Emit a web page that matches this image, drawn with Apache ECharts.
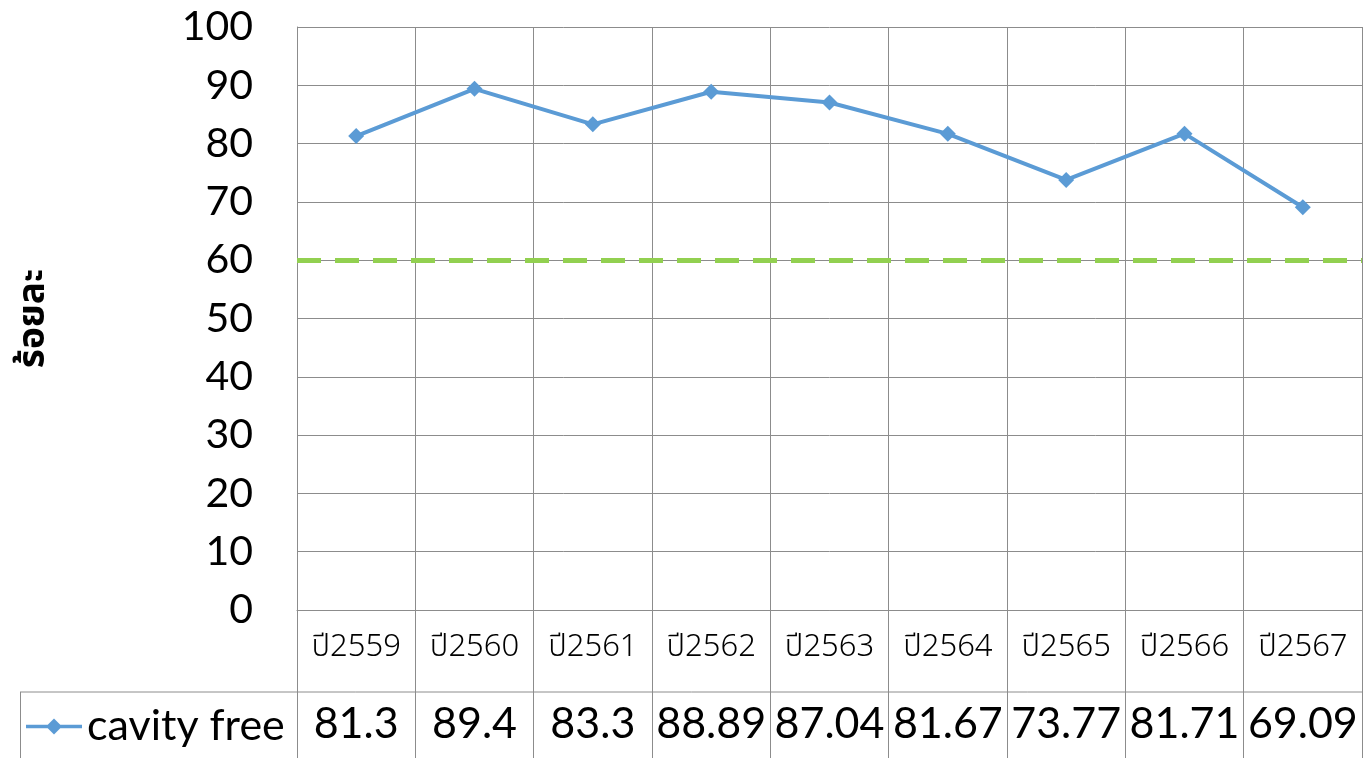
<!DOCTYPE html>
<html><head><meta charset="utf-8">
<script src="https://cdn.jsdelivr.net/npm/echarts@6/dist/echarts.min.js"></script>
<style>html,body{margin:0;padding:0;background:#fff}#c{width:1363px;height:758px}</style>
</head><body><div id="c"></div>
<script>
const categories = ['ปี2559','ปี2560','ปี2561','ปี2562','ปี2563','ปี2564','ปี2565','ปี2566','ปี2567'];
const seriesName = 'cavity free';
const values = [81.3, 89.4, 83.3, 88.89, 87.04, 81.67, 73.77, 81.71, 69.09];
const valueLabels = ['81.3','89.4','83.3','88.89','87.04','81.67','73.77','81.71','69.09'];
const targetValue = 60;
const yAxisName = 'ร้อยละ';

const FONT = 'Lato, "Open Sans", "Noto Sans", "Noto Sans Thai", sans-serif';
const THAI = '"Noto Sans Thai", "Noto Sans Thai Looped", Lato, "Noto Sans", sans-serif';
const GRID = '#8c8c8c';
const BLUE = '#5b9bd5';
const chart = echarts.init(document.getElementById('c'), null, {renderer:'canvas'});
chart.setOption({
  animation:false,
  backgroundColor:'#fff',
  grid:{left:297, right:1, top:27, bottom:148},
  legend:{
    left:21, top:700, itemWidth:56, itemHeight:16, itemGap:0,
    icon:'path://M0,6.2H56V9.8H0Z M28,0L36,8L28,16L20,8Z',
    itemStyle:{color:BLUE},
    textStyle:{fontSize:43, color:'#000', fontFamily:FONT},
    data:[seriesName]
  },
  xAxis:{
    type:'category', data:categories, boundaryGap:true,
    axisLine:{show:true, lineStyle:{color:GRID, width:1}},
    axisTick:{show:true, interval:0, length:148, lineStyle:{color:GRID, width:1}},
    splitLine:{show:true, interval:0, lineStyle:{color:GRID, width:1}},
    axisLabel:{
      interval:0, margin:0,
      formatter:(v, i)=>'{c|'+v+'}\n{v|'+valueLabels[i]+'}',
      rich:{
        c:{fontSize:31, lineHeight:80, color:'#000', fontFamily:THAI, fontWeight:300, align:'center'},
        v:{fontSize:43, lineHeight:68, color:'#000', fontFamily:FONT, align:'center'}
      }
    }
  },
  yAxis:{
    type:'value', min:0, max:100, interval:10,
    name:yAxisName, nameLocation:'middle', nameGap:242, nameRotate:90,
    nameTextStyle:{fontSize:37, fontWeight:'bold', color:'#000', fontFamily:THAI},
    axisLine:{show:true, lineStyle:{color:GRID, width:1}},
    axisTick:{show:false},
    splitLine:{show:true, lineStyle:{color:GRID, width:1}},
    axisLabel:{fontSize:41, color:'#000', margin:44, fontFamily:FONT}
  },
  graphic:[
    {type:'line', shape:{x1:20, y1:692, x2:1363, y2:692}, style:{stroke:GRID, lineWidth:1}},
    {type:'line', shape:{x1:20.5, y1:692, x2:20.5, y2:758}, style:{stroke:GRID, lineWidth:1}}
  ],
  series:[{
    name:seriesName, type:'line', data:values,
    symbol:'diamond', symbolSize:16,
    lineStyle:{color:BLUE, width:4},
    itemStyle:{color:BLUE},
    markLine:{
      silent:true, symbol:'none', label:{show:false},
      lineStyle:{color:'#92d050', width:5, type:[24,14]},
      data:[{yAxis:targetValue}]
    }
  }]
});
</script></body></html>
